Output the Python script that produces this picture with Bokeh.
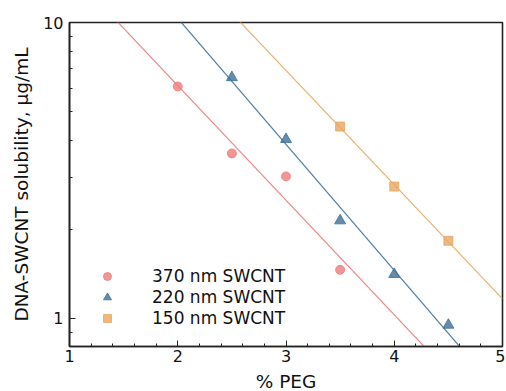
import numpy as np
from bokeh.plotting import figure
from bokeh.models import (Range1d, FixedTicker, SingleIntervalTicker, PrintfTickFormatter,
                          Legend, LegendItem)
from bokeh.embed import file_html
from bokeh.resources import INLINE

# Data
peg_370 = [2.0, 2.5, 3.0, 3.5]
sol_370 = [6.08, 3.61, 3.02, 1.46]
peg_220 = [2.5, 3.0, 3.5, 4.0, 4.5]
sol_220 = [6.52, 4.03, 2.14, 1.41, 0.95]
peg_150 = [3.5, 4.0, 4.5]
sol_150 = [4.45, 2.79, 1.83]
labels = ["370 nm SWCNT", "220 nm SWCNT", "150 nm SWCNT"]
x_ticks = [1, 2, 3, 4, 5]
y_ticks = [1, 10]

FONT = "DejaVu Sans"
c_red, c_blue, c_orange = "#ef7b7b", "#3e7096", "#e8a862"

p = figure(output_backend="svg", toolbar_location=None, y_axis_type="log",
           frame_width=433, frame_height=324,
           min_border_left=69, min_border_right=3, min_border_top=22, min_border_bottom=44,
           x_range=Range1d(1, 5), y_range=Range1d(0.804, 10))
p.background_fill_color = "white"
p.border_fill_color = "white"
p.grid.visible = False
p.outline_line_color = "#222222"
p.outline_line_width = 1.6

xs_line = np.array([1.0, 5.0])
series = [(peg_370, sol_370, c_red, "circle", 9),
          (peg_220, sol_220, c_blue, "triangle", 11),
          (peg_150, sol_150, c_orange, "square", 9)]
items = []
for (xv, yv, col, mk, sz), lab in zip(series, labels):
    slope, icpt = np.polyfit(np.array(xv), np.log10(np.array(yv)), 1)
    p.line(xs_line, 10 ** (icpt + slope * xs_line), line_color=col, line_width=1.2, line_alpha=0.9)
    r = p.scatter(xv, yv, marker=mk, size=sz, fill_color=col, fill_alpha=0.8,
                  line_color=col, line_alpha=0.8)
    items.append(LegendItem(label=lab, renderers=[r]))

legend = Legend(items=items, location=(28, 18), border_line_color=None,
                background_fill_alpha=0, margin=0, padding=0, spacing=1,
                glyph_width=20, glyph_height=20, label_height=20, label_standoff=35,
                label_text_font=FONT, label_text_font_size="17px", label_text_color="#111111")
p.add_layout(legend, "center")

p.xaxis.ticker = SingleIntervalTicker(interval=1, num_minor_ticks=5)
p.yaxis.ticker = FixedTicker(ticks=y_ticks, minor_ticks=[0.9, 2, 3, 4, 5, 6, 7, 8, 9])
p.yaxis.formatter = PrintfTickFormatter(format="%d")
for ax in (p.xaxis[0], p.yaxis[0]):
    ax.axis_line_color = "#222222"
    ax.axis_line_width = 1.6
    ax.major_tick_in = 6
    ax.major_tick_out = 0
    ax.minor_tick_in = 3
    ax.minor_tick_out = 0
    ax.major_tick_line_color = "#222222"
    ax.minor_tick_line_color = "#222222"
    ax.major_label_text_font = FONT
    ax.major_label_text_font_size = "16px"
    ax.major_label_text_color = "#111111"
    ax.axis_label_text_font = FONT
    ax.axis_label_text_font_size = "18.5px"
    ax.axis_label_text_font_style = "normal"
    ax.axis_label_text_color = "#111111"
p.xaxis.axis_label = "% PEG"
p.yaxis.axis_label = "DNA-SWCNT solubility, μg/mL"
p.xaxis.major_label_standoff = 3
p.yaxis.major_label_standoff = 6
p.xaxis.axis_label_standoff = 6
p.yaxis.axis_label_standoff = 8

open("out.html", "w").write(file_html(p, INLINE))
